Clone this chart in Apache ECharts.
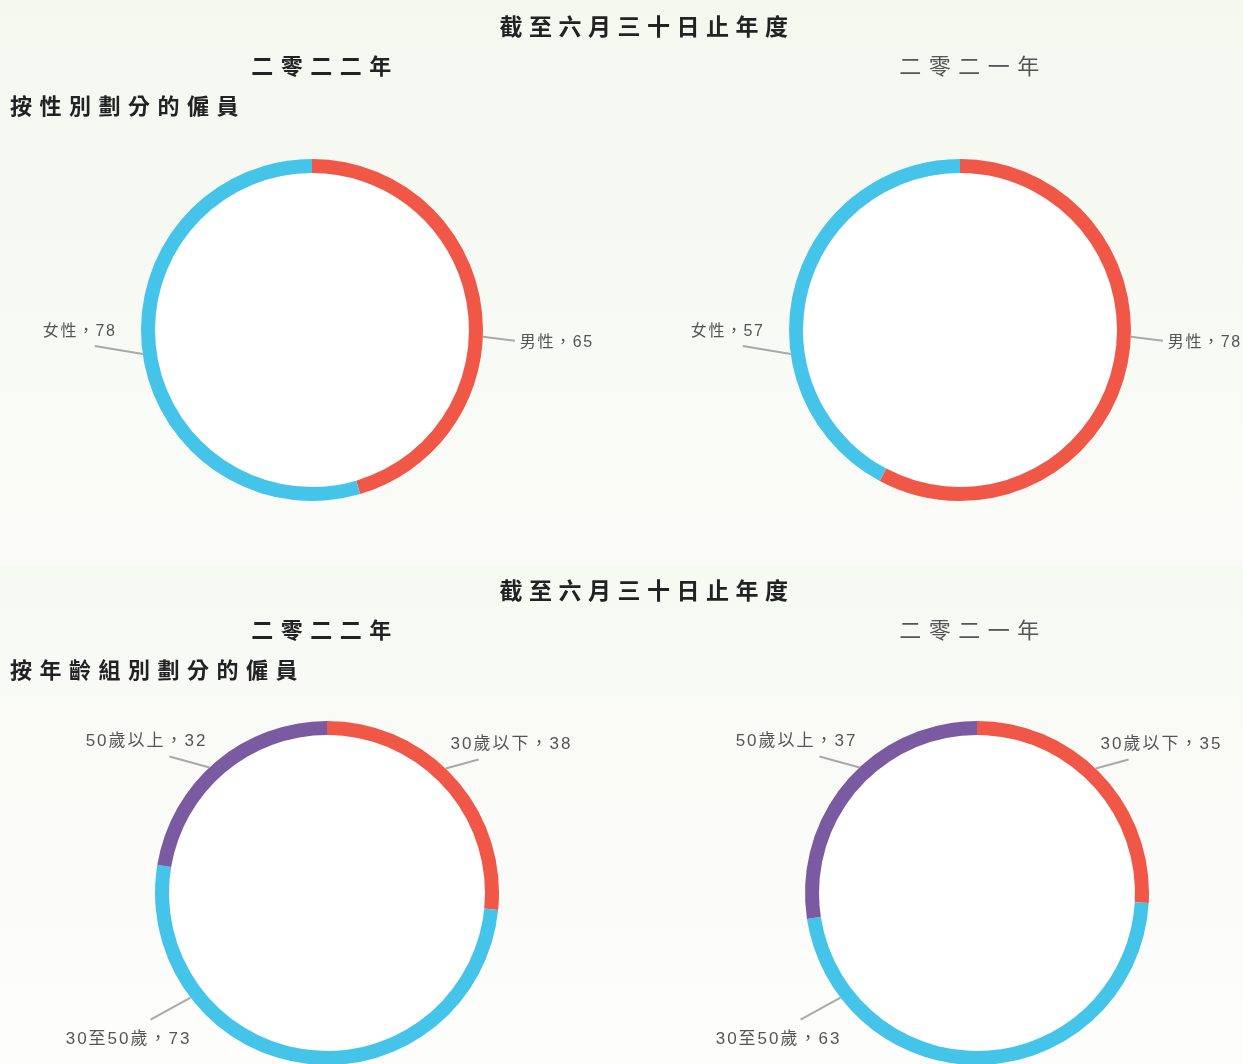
<!DOCTYPE html>
<html><head><meta charset="utf-8">
<script src="https://cdn.jsdelivr.net/npm/echarts@6/dist/echarts.min.js"></script>
<style>html,body{margin:0;padding:0;background:#fff}#top{width:1243px;height:565px}#bot{width:1243px;height:499px}</style>
</head><body><div id="top"></div><div id="bot"></div>
<script>
// ---- data ----
const periodTitle = '截至六月三十日止年度';
const yearLabels = ['二零二二年', '二零二一年'];
const genderTitle = '按性別劃分的僱員';
const ageTitle = '按年齡組別劃分的僱員';
const genderCategories = ['男性', '女性'];
const gender2022 = [65, 78];
const gender2021 = [78, 57];
const ageCategories = ['30歲以下', '30至50歲', '50歲以上'];
const age2022 = [38, 73, 32];
const age2021 = [35, 63, 37];

// ---- styles ----
const genderColors = ['#f15746', '#45c4ea'];
const ageColors = ['#f15746', '#45c4ea', '#7a5aa0'];
const CJK = '"Noto Sans CJK TC", "Noto Sans CJK SC", sans-serif';
const LAB = '"Liberation Sans", "Noto Sans CJK TC", sans-serif';
// letter spacing by font size (the reference typesetting is tracked out)
const TRACKING = { 23: 6.5, 22: 7.5, 16: 1.6, 17: 2 };
(function () {
  const proto = CanvasRenderingContext2D.prototype;
  const orig = proto.fillText;
  proto.fillText = function (t, x, y, w) {
    const m = /(\d+)px/.exec(this.font);
    const sp = m ? TRACKING[+m[1]] : 0;
    if (sp && 'letterSpacing' in this) {
      const prev = this.letterSpacing;
      this.letterSpacing = sp + 'px';
      const r = w === undefined ? orig.call(this, t, x, y) : orig.call(this, t, x, y, w);
      this.letterSpacing = prev;
      return r;
    }
    return orig.apply(this, arguments);
  };
})();
// label placement: angle (deg clockwise from 12 o'clock) where the leader starts, leader vector, text offset
const genderLabelStyle = [
  { angle: 92.3, dx: 32, dy: 4, tx: 5, ty: 2, align: 'left', va: 'middle' },
  { angle: 261.9, dx: -48, dy: -8, tx: -15, ty: -7, align: 'center', va: 'bottom' }
];
const ageLabelStyle = [
  { angle: 43.6, dx: 33, dy: -9, tx: -28, ty: -7, align: 'left', va: 'bottom' },
  { angle: 232.5, dx: -40, dy: 22, tx: -22, ty: 11, align: 'center', va: 'top' },
  { angle: 316.9, dx: -40, dy: -11, tx: 38, ty: -7, align: 'right', va: 'bottom' }
];

function buildOption(cfg) {
  const series = [];
  const graphics = [];
  cfg.pies.forEach(function (p) {
    graphics.push({ type: 'circle', z: 0, silent: true, shape: { cx: p.center[0], cy: p.center[1], r: p.inner }, style: { fill: '#ffffff' } });
    series.push({
      type: 'pie',
      center: p.center,
      radius: [p.inner, p.outer],
      startAngle: 90,
      clockwise: true,
      animation: false,
      avoidLabelOverlap: false,
      emphasis: { disabled: true },
      itemStyle: { borderWidth: 0 },
      label: {
        show: true,
        position: 'outside',
        formatter: '{b}，{c}',
        fontFamily: LAB,
        fontSize: cfg.labelSize,
        color: '#555'
      },
      labelLine: { show: true, length: 10, length2: 10, lineStyle: { color: '#a9a9a9', width: 2 } },
      labelLayout: function (params) {
        const s = cfg.labelStyle[params.dataIndex];
        const a = s.angle * Math.PI / 180;
        const sx = p.center[0] + p.outer * Math.sin(a);
        const sy = p.center[1] - p.outer * Math.cos(a);
        const ex = sx + s.dx, ey = sy + s.dy;
        return {
          x: ex + s.tx, y: ey + s.ty, align: s.align, verticalAlign: s.va,
          labelLinePoints: [[sx, sy], [ex, ey], [ex, ey]]
        };
      },
      data: cfg.categories.map(function (c, i) {
        return { name: c, value: p.values[i], itemStyle: { color: cfg.colors[i] } };
      })
    });
  });
  return {
    backgroundColor: cfg.bg,
    animation: false,
    title: [
      { text: periodTitle, left: 647, top: cfg.titleTop, textAlign: 'center', padding: 0,
        textStyle: { fontFamily: CJK, fontSize: 23, fontWeight: 'bold', color: '#222' } },
      { text: yearLabels[0], left: 325, top: cfg.titleTop + 40, textAlign: 'center', padding: 0,
        textStyle: { fontFamily: CJK, fontSize: 22, fontWeight: 'bold', color: '#222' } },
      { text: yearLabels[1], left: 973, top: cfg.titleTop + 40, textAlign: 'center', padding: 0,
        textStyle: { fontFamily: CJK, fontSize: 22, fontWeight: 'normal', color: '#555' } },
      { text: cfg.sectionTitle, left: 10, top: cfg.titleTop + 80, padding: 0,
        textStyle: { fontFamily: CJK, fontSize: 22, fontWeight: 'bold', color: '#222' } }
    ],
    graphic: graphics,
    series: series
  };
}

const topChart = echarts.init(document.getElementById('top'));
topChart.setOption(buildOption({
  titleTop: 15,
  sectionTitle: genderTitle,
  categories: genderCategories,
  colors: genderColors,
  labelStyle: genderLabelStyle,
  labelSize: 16,
  bg: new echarts.graphic.LinearGradient(0, 0, 0, 1, [{ offset: 0, color: '#f4f8ef' }, { offset: 1, color: '#fafbf8' }]),
  pies: [
    { center: [312, 330], inner: 157, outer: 171, values: gender2022 },
    { center: [960, 330], inner: 157, outer: 171, values: gender2021 }
  ]
}));

const botChart = echarts.init(document.getElementById('bot'));
botChart.setOption(buildOption({
  titleTop: 14,
  sectionTitle: ageTitle,
  categories: ageCategories,
  colors: ageColors,
  labelStyle: ageLabelStyle,
  labelSize: 17,
  bg: new echarts.graphic.LinearGradient(0, 0, 0, 1, [{ offset: 0, color: '#f7f9f3' }, { offset: 1, color: '#fdfdfc' }]),
  pies: [
    { center: [327, 328], inner: 158, outer: 172, values: age2022 },
    { center: [977, 328], inner: 158, outer: 172, values: age2021 }
  ]
}));
</script></body></html>
